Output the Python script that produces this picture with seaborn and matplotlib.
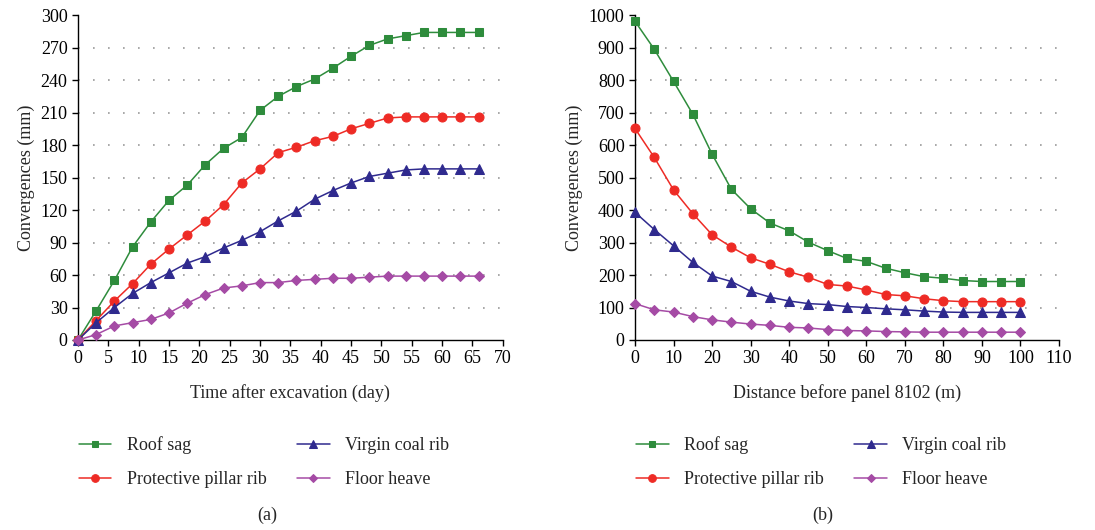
import pandas as pd
import seaborn as sns
import matplotlib.pyplot as plt

# ---------------- data ----------------
days = list(range(0, 67, 3))
roof_a = [0, 27, 55, 86, 109, 129, 143, 162, 177, 187, 212, 225, 234, 241, 251, 262, 272, 278, 281, 284, 284, 284, 284]
pillar_a = [0, 18, 36, 52, 70, 84, 97, 110, 125, 145, 158, 173, 178, 184, 188, 195, 200, 205, 206, 206, 206, 206, 206]
virgin_a = [0, 16, 30, 43, 53, 62, 71, 77, 85, 92, 100, 110, 119, 130, 138, 145, 151, 154, 157, 158, 158, 158, 158]
floor_a = [0, 5, 13, 16, 19, 25, 34, 42, 48, 50, 53, 53, 55, 56, 57, 57, 58, 59, 59, 59, 59, 59, 59]

dist = list(range(0, 101, 5))
roof_b = [981, 895, 796, 695, 572, 464, 404, 360, 336, 301, 275, 251, 242, 221, 207, 195, 190, 183, 180, 180, 180]
pillar_b = [651, 562, 462, 389, 324, 286, 253, 233, 210, 193, 171, 166, 154, 140, 136, 127, 121, 118, 118, 118, 118]
virgin_b = [393, 340, 290, 239, 197, 180, 150, 132, 120, 112, 109, 103, 100, 96, 93, 89, 86, 85, 85, 85, 85]
floor_b = [112, 93, 86, 72, 62, 55, 49, 45, 39, 37, 32, 29, 28, 26, 25, 24, 24, 24, 24, 24, 24]

names = ["Roof sag", "Protective pillar rib", "Virgin coal rib", "Floor heave"]
colors = ["#2e8c3c", "#ee2b25", "#2f2a8e", "#a54ba5"]
markers = ["s", "o", "^", "D"]
msizes = [5.5, 6.5, 6.5, 5.0]

sns.set_style("ticks")
plt.rcParams["font.family"] = ["Liberation Serif", "DejaVu Serif"]
plt.rcParams["font.size"] = 13

fig = plt.figure(figsize=(10.95, 5.30), dpi=100)
ax_a = fig.add_axes([0.0712, 0.3585, 0.388, 0.613])
ax_b = fig.add_axes([0.5799, 0.3585, 0.3872, 0.613])


def draw(ax, x, series, xlim, xstep, ylim, ystep, xlabel):
    for ys, name, c, m, ms in zip(series, names, colors, markers, msizes):
        df = pd.DataFrame({"x": x, "y": ys})
        sns.lineplot(data=df, x="x", y="y", ax=ax, color=c, marker=m,
                     markersize=ms, markeredgecolor=c, linewidth=1.1,
                     label=name, legend=False, clip_on=False, zorder=3)
    ax.set_xlim(*xlim)
    ax.set_ylim(*ylim)
    ax.set_xticks(range(xlim[0], xlim[1] + 1, xstep))
    ax.set_yticks(range(ylim[0], ylim[1] + 1, ystep))
    ax.yaxis.grid(True, color="#9a9a9a", linestyle=(0, (1, 8)), linewidth=1.2)
    ax.get_ygridlines()[-1].set_visible(False)
    ax.get_ygridlines()[0].set_visible(False)
    sns.despine(ax=ax)
    for s in ["left", "bottom"]:
        ax.spines[s].set_linewidth(1.0)
        ax.spines[s].set_color("black")
    ax.tick_params(direction="out", length=4, width=1, labelsize=13, colors="black")
    ax.set_xlabel(xlabel, fontsize=13, labelpad=12)
    ax.set_ylabel("Convergences (mm)", fontsize=13, labelpad=4)


draw(ax_a, days, [roof_a, pillar_a, virgin_a, floor_a], (0, 70), 5, (0, 300), 30,
     "Time after excavation (day)")
draw(ax_b, dist, [roof_b, pillar_b, virgin_b, floor_b], (0, 110), 10, (0, 1000), 100,
     "Distance before panel 8102 (m)")

for ax, x0, tag, tx in [(ax_a, 0.072, "(a)", 0.244), (ax_b, 0.581, "(b)", 0.751)]:
    handles = ax.get_lines()[:4]
    fig.legend(handles, names, loc="upper left", bbox_to_anchor=(x0, 0.177),
               ncol=2, frameon=False, fontsize=13, handlelength=1.8,
               handletextpad=0.85, columnspacing=1.7, labelspacing=0.95,
               markerscale=0.85, borderaxespad=0, borderpad=0)
    fig.text(tx, 0.028, tag, fontsize=13, ha="center", va="center")

fig.savefig("out.png", dpi=100)
